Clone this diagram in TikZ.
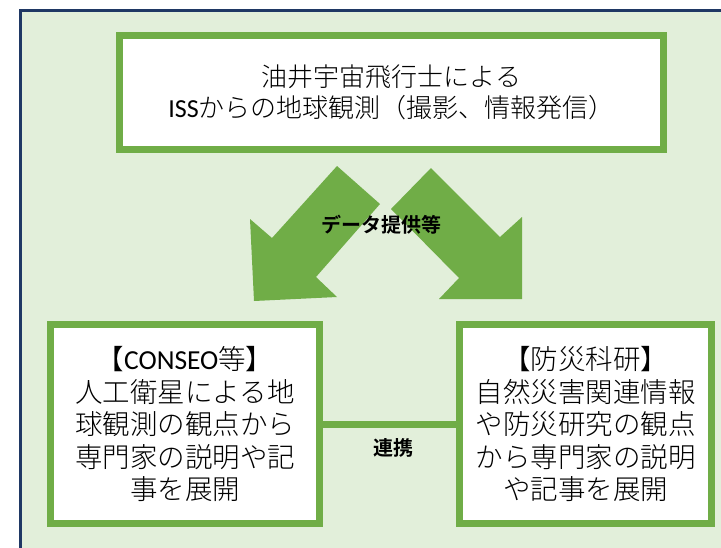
\documentclass[tikz,border=0pt]{standalone}
\usepackage{fontspec}
\setmainfont{Noto Sans CJK JP}[UprightFont={* Light},BoldFont={* Bold}]
\newfontfamily\latfont{Carlito}
\usetikzlibrary{positioning}
\definecolor{issgreen}{HTML}{70AD47}
\definecolor{issback}{HTML}{E2EFDA}
\definecolor{issnavy}{HTML}{1F3864}

\begin{document}
\begin{tikzpicture}[x=1pt,y=-1pt,
  panel/.style={draw=issgreen, line width=7pt, fill=white, align=center,
                inner sep=0pt, font=\fontsize{26}{31.5}\selectfont},
  bigpanel/.style={panel, font=\fontsize{27.5}{32.5}\selectfont},
  tag/.style={font=\fontsize{20}{24}\selectfont\bfseries}]
\useasboundingbox (0,0) rectangle (721,547);
\clip (0,0) rectangle (721,547);
\draw[issnavy, line width=2.5pt, fill=issback] (20.5,10.5) rectangle (740,570);

% block arrows
\fill[issgreen] (337,166) -- (380,204) -- (316,277) -- (337,297)
  -- (254,301) -- (250,219) -- (272,238) -- cycle;
\fill[issgreen] (431,168) -- (391,209) -- (459,278) -- (439,299)
  -- (522,299) -- (522,217) -- (500,237) -- cycle;
\node[tag] (data) at (381,225) {データ提供等};

\node[panel, minimum width=544, minimum height=114] (iss) at (391.5,92.5)
  {油井宇宙飛行士による\\{\latfont ISS}からの地球観測（撮影、情報発信）};
\node[bigpanel, minimum width=269, minimum height=199] (conseo) at (185,424)
  {【{\latfont CONSEO}等】\\人工衛星による地\\球観測の観点から\\専門家の説明や記\\事を展開};
\node[bigpanel, minimum width=252, minimum height=199] (bosai) at (585.5,424)
  {【防災科研】\\自然災害関連情報\\や防災研究の観点\\から専門家の説明\\や記事を展開};

\draw[issgreen, line width=7pt] (conseo.east) -- (bosai.west);
\node[tag] (link) at (393,448) {連携};
\end{tikzpicture}
\end{document}
